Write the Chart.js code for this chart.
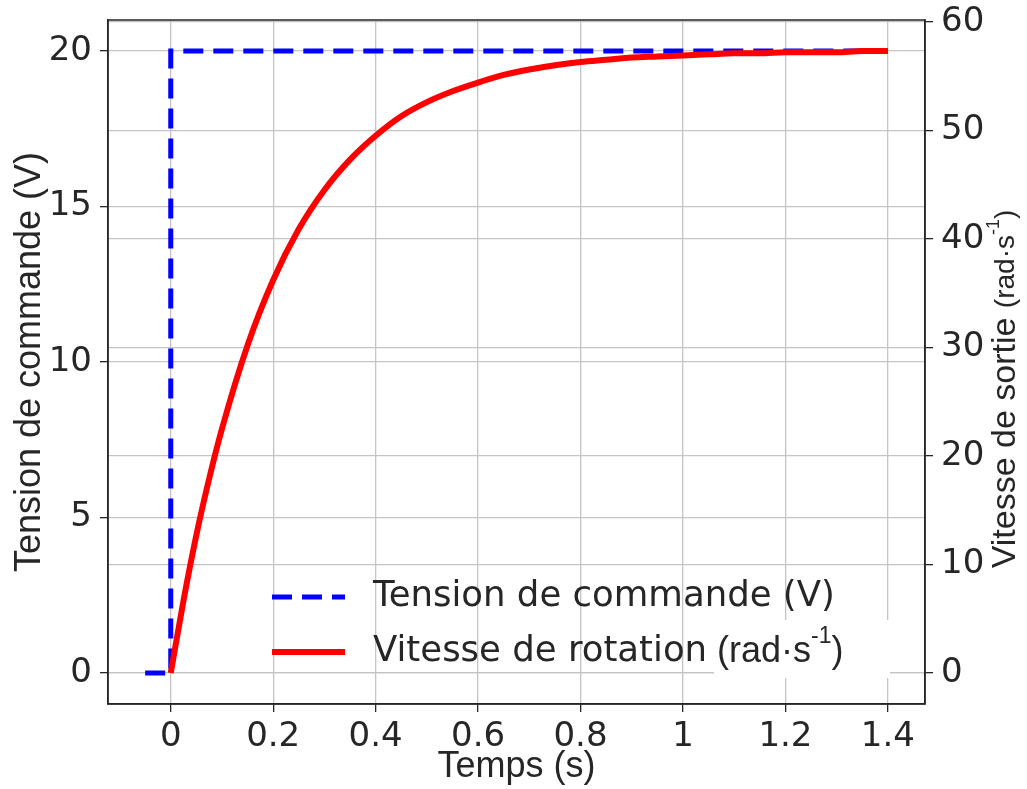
<!DOCTYPE html>
<html>
<head>
<meta charset="utf-8">
<script src="https://cdn.jsdelivr.net/npm/chart.js@4"></script>
<style>
  body { margin: 0; background: #fff; }
  canvas { display: block; }
</style>
</head>
<body>
<canvas id="chart" width="1027" height="789"></canvas>
<script>
// Data
const tensionT = [-0.05, 0, 0, 1.4];
const tensionV = [0, 0, 20, 20];

const vitesseT = [0, 0.025, 0.05, 0.075, 0.1, 0.15, 0.2, 0.25, 0.3, 0.35, 0.4, 0.45, 0.5, 0.55, 0.6, 0.65, 0.7,
                  0.75, 0.8, 0.85, 0.9, 0.95, 1.0, 1.05, 1.1, 1.15, 1.2, 1.25, 1.3, 1.35, 1.4];
const vitesseV = [0, 6.7, 12.7, 17.9, 22.5, 30.2, 36.2, 40.9, 44.5, 47.3, 49.5, 51.3, 52.6, 53.6, 54.4, 55.1, 55.6,
                  56.0, 56.3, 56.5, 56.7, 56.8, 56.9, 57.0, 57.1, 57.1, 57.2, 57.2, 57.2, 57.3, 57.3];

const xTicks = [0, 0.2, 0.4, 0.6, 0.8, 1.0, 1.2, 1.4];
const leftTicks = [0, 5, 10, 15, 20];
const rightTicks = [0, 10, 20, 30, 40, 50, 60];

const TICK_FONT = { family: 'DejaVu Sans', size: 34 };
const INK = '#262626';
const GRID = '#c4c4c4';

function toPoints(xs, ys) {
    return xs.map((x, i) => ({ x: x, y: ys[i] }));
}

function fixedTicks(list) {
    return function(scale) {
        scale.ticks = list.map(v => ({ value: v }));
    };
}

// frame, axis titles and legend
const decorations = {
    id: 'decorations',
    afterDatasetsDraw(chart) {
        const ctx = chart.ctx;
        const a = chart.chartArea;
        ctx.save();

        // legend (inside the plot)
        const ds = chart.data.datasets;
        const rows = [597, 652];
        ds.forEach((d, i) => {
            const y = rows[i];
            ctx.strokeStyle = d.borderColor;
            ctx.lineWidth = d.borderWidth;
            ctx.setLineDash(d.borderDash || []);
            ctx.beginPath();
            ctx.moveTo(272, y);
            ctx.lineTo(345, y);
            ctx.stroke();
        });
        ctx.setLineDash([]);
        ctx.fillStyle = INK;
        ctx.textBaseline = 'middle';
        ctx.textAlign = 'left';
        ctx.font = '35.5px "DejaVu Sans"';
        ctx.fillText('Tension de commande (V)', 373, rows[0]);
        ctx.fillText('Vitesse de rotation', 373, rows[1]);
        // white box behind the unit, as in the original
        ctx.fillStyle = '#fff';
        ctx.fillRect(714, 620, 176, 58);
        ctx.fillStyle = INK;
        drawUnit(ctx, 717, rows[1], 36);

        // frame
        ctx.strokeStyle = INK;
        ctx.lineWidth = 1.5;
        ctx.strokeRect(a.left, a.top, a.right - a.left, a.bottom - a.top);

        // left title
        ctx.fillStyle = INK;
        ctx.font = '36px "Liberation Sans"';
        ctx.textAlign = 'center';
        ctx.save();
        ctx.translate(30, (a.top + a.bottom) / 2);
        ctx.rotate(-Math.PI / 2);
        ctx.fillText('Tension de commande (V)', 0, 0);
        ctx.restore();

        // bottom title
        ctx.fillText('Temps (s)', (a.left + a.right) / 2, 767);

        // right title: "Vitesse de sortie (rad·s-1)"
        ctx.save();
        ctx.translate(1006, 389);
        ctx.rotate(-Math.PI / 2);
        ctx.textAlign = 'left';
        ctx.font = '34px "Liberation Sans"';
        const main = 'Vitesse de sortie ';
        const mainW = ctx.measureText(main).width;
        const unitW = unitWidth(ctx, 28);
        const x0 = -(mainW + unitW) / 2;
        ctx.fillText(main, x0, 0);
        drawUnit(ctx, x0 + mainW, 0, 28);
        ctx.restore();

        ctx.restore();
    }
};

function unitWidth(ctx, size) {
    ctx.save();
    ctx.font = size + 'px "Liberation Sans"';
    let w = ctx.measureText('(rad·s').width + ctx.measureText(')').width;
    ctx.font = Math.round(size * 0.65) + 'px "Liberation Sans"';
    w += ctx.measureText('-1').width;
    ctx.restore();
    return w;
}

function drawUnit(ctx, x, y, size) {
    ctx.save();
    ctx.textAlign = 'left';
    ctx.font = size + 'px "Liberation Sans"';
    ctx.fillText('(rad·s', x, y);
    x += ctx.measureText('(rad·s').width;
    ctx.font = Math.round(size * 0.65) + 'px "Liberation Sans"';
    ctx.fillText('-1', x, y - size * 0.42);
    x += ctx.measureText('-1').width;
    ctx.font = size + 'px "Liberation Sans"';
    ctx.fillText(')', x, y);
    ctx.restore();
}

const gridOpts = {
    color: GRID,
    lineWidth: 1.3,
    tickLength: 8,
    tickColor: INK,
    tickWidth: 1.3
};

function noOverflowY(width) {
    return s => { s.width = width; s.paddingTop = 0; s.paddingBottom = 0; };
}

new Chart(document.getElementById('chart'), {
    type: 'line',
    data: {
        datasets: [{
            label: 'Tension de commande (V)',
            data: toPoints(tensionT, tensionV),
            yAxisID: 'y',
            borderColor: '#0000ff',
            borderWidth: 5,
            borderDash: [20, 10],
            pointRadius: 0,
            tension: 0,
            order: 1
        }, {
            label: 'Vitesse de rotation (rad·s⁻¹)',
            data: toPoints(vitesseT, vitesseV),
            yAxisID: 'y1',
            borderColor: '#ff0000',
            borderWidth: 6,
            pointRadius: 0,
            cubicInterpolationMode: 'monotone',
            order: 0
        }]
    },
    options: {
        responsive: false,
        animation: false,
        layout: { padding: { top: 20, left: 0, right: 0, bottom: 0 } },
        plugins: {
            legend: { display: false },
            tooltip: { enabled: false }
        },
        scales: {
            x: {
                type: 'linear',
                position: 'bottom',
                min: -0.1225,
                max: 1.4725,
                afterBuildTicks: fixedTicks(xTicks),
                afterFit: s => { s.height = 85; s.paddingLeft = 0; s.paddingRight = 0; },
                grid: gridOpts,
                border: { color: INK, width: 1.5 },
                ticks: {
                    font: TICK_FONT,
                    color: INK,
                    padding: 5,
                    maxRotation: 0,
                    callback: v => String(Math.round(v * 10) / 10)
                }
            },
            y: {
                type: 'linear',
                position: 'left',
                min: -1,
                max: 21,
                afterBuildTicks: fixedTicks(leftTicks),
                afterFit: noOverflowY(108),
                grid: gridOpts,
                border: { color: INK, width: 1.5 },
                ticks: { font: TICK_FONT, color: INK, padding: 8 }
            },
            y1: {
                type: 'linear',
                position: 'right',
                min: -2.865,
                max: 60.165,
                afterBuildTicks: fixedTicks(rightTicks),
                afterFit: noOverflowY(102),
                grid: gridOpts,
                border: { color: INK, width: 1.5 },
                ticks: { font: TICK_FONT, color: INK, padding: 8 }
            }
        }
    },
    plugins: [decorations]
});
</script>
</body>
</html>
